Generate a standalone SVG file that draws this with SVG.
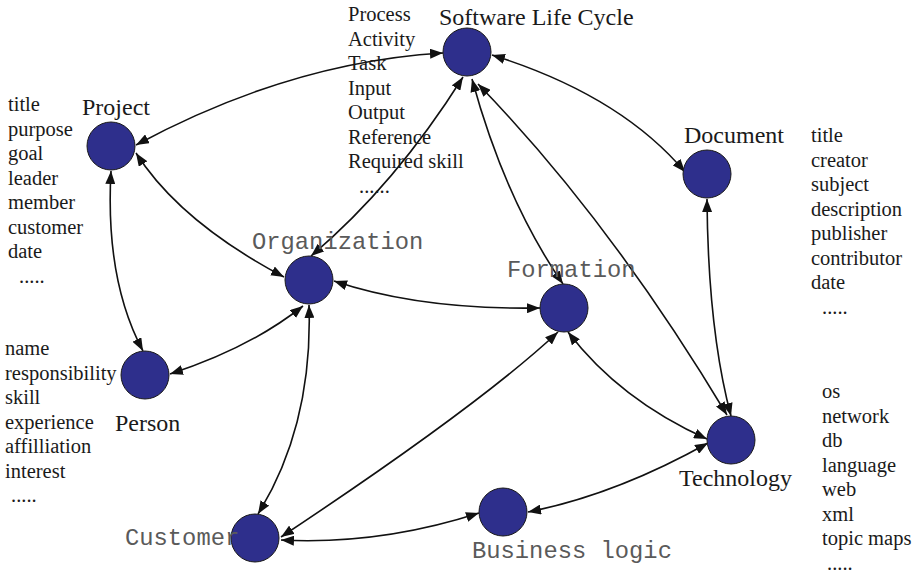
<svg xmlns="http://www.w3.org/2000/svg" width="919" height="576" viewBox="0 0 919 576">
  <style>
    .node { fill: #2e2f8c; stroke: #1a1a1a; stroke-width: 1; }
    .lbl { font-family: "Liberation Serif", "Times New Roman", serif; font-size: 24px; fill: #1a1a1a; }
    .mono { font-family: "Liberation Mono", "Courier New", monospace; font-size: 23.8px; fill: #5a5a5a; }
    .attr { font-family: "Liberation Serif", "Times New Roman", serif; font-size: 20.5px; fill: #1a1a1a; }
    .edge { fill: none; stroke: #111; stroke-width: 1.6; marker-start: url(#arrow); marker-end: url(#arrow); }
  </style>
  <defs>
    <marker id="arrow" markerUnits="userSpaceOnUse" markerWidth="14" markerHeight="10" refX="13" refY="5" orient="auto-start-reverse">
      <path d="M0,0 L13,5 L0,10 z" fill="#111"/>
    </marker>
  </defs>
  <rect width="919" height="576" fill="#fff"/>

  <!-- connectors: every relation is two-way -->
  <g id="connectors">
    <path class="edge" d="M136,145 Q290,62 443,53"/>
    <path class="edge" d="M136,153 Q180,222 284,277"/>
    <path class="edge" d="M111,171 Q105,280 143,351"/>
    <path class="edge" d="M170,374 Q250,348 303,306"/>
    <path class="edge" d="M309,305 Q313,425 258,514"/>
    <path class="edge" d="M311,256 Q395,185 463,77"/>
    <path class="edge" d="M472,79 Q505,200 563,284"/>
    <path class="edge" d="M478,84 Q610,220 727,415"/>
    <path class="edge" d="M492,55 Q620,95 685,172"/>
    <path class="edge" d="M707,199 Q708,330 731,416"/>
    <path class="edge" d="M334,281 Q420,310 540,308"/>
    <path class="edge" d="M558,332 Q480,405 281,537"/>
    <path class="edge" d="M568,332 Q620,400 707,439"/>
    <path class="edge" d="M528,512 Q615,495 708,443"/>
    <path class="edge" d="M281,540 Q380,545 479,513"/>
  </g>

  <g id="software-life-cycle">
    <circle class="node" cx="467" cy="52" r="24"/>
    <text class="lbl" x="439" y="25">Software Life Cycle</text>
    <text class="attr" x="348" y="21">
      <tspan x="348">Process</tspan>
      <tspan x="348" dy="24.5">Activity</tspan>
      <tspan x="348" dy="24.5">Task</tspan>
      <tspan x="348" dy="24.5">Input</tspan>
      <tspan x="348" dy="24.5">Output</tspan>
      <tspan x="348" dy="24.5">Reference</tspan>
      <tspan x="348" dy="24.5">Required skill</tspan>
      <tspan x="359" dy="24.5">......</tspan>
    </text>
  </g>

  <g id="project">
    <circle class="node" cx="111" cy="146" r="24"/>
    <text class="lbl" x="82" y="115">Project</text>
    <text class="attr" x="8" y="111">
      <tspan x="8">title</tspan>
      <tspan x="8" dy="24.5">purpose</tspan>
      <tspan x="8" dy="24.5">goal</tspan>
      <tspan x="8" dy="24.5">leader</tspan>
      <tspan x="8" dy="24.5">member</tspan>
      <tspan x="8" dy="24.5">customer</tspan>
      <tspan x="8" dy="24.5">date</tspan>
      <tspan x="19" dy="24.5">.....</tspan>
    </text>
  </g>

  <g id="person">
    <circle class="node" cx="145" cy="375" r="24"/>
    <text class="lbl" x="115" y="431">Person</text>
    <text class="attr" x="5" y="355">
      <tspan x="5">name</tspan>
      <tspan x="5" dy="24.5">responsibility</tspan>
      <tspan x="5" dy="24.5">skill</tspan>
      <tspan x="5" dy="24.5">experience</tspan>
      <tspan x="5" dy="24.5">affilliation</tspan>
      <tspan x="5" dy="24.5">interest</tspan>
      <tspan x="11" dy="24.5">.....</tspan>
    </text>
  </g>

  <g id="organization">
    <circle class="node" cx="309" cy="280" r="24"/>
    <text class="mono" x="252" y="249">Organization</text>
  </g>

  <g id="formation">
    <circle class="node" cx="564" cy="308" r="24"/>
    <text class="mono" x="507" y="277">Formation</text>
  </g>

  <g id="document">
    <circle class="node" cx="707" cy="174" r="24"/>
    <text class="lbl" x="684" y="143">Document</text>
    <text class="attr" x="811" y="142">
      <tspan x="811">title</tspan>
      <tspan x="811" dy="24.5">creator</tspan>
      <tspan x="811" dy="24.5">subject</tspan>
      <tspan x="811" dy="24.5">description</tspan>
      <tspan x="811" dy="24.5">publisher</tspan>
      <tspan x="811" dy="24.5">contributor</tspan>
      <tspan x="811" dy="24.5">date</tspan>
      <tspan x="822" dy="24.5">.....</tspan>
    </text>
  </g>

  <g id="technology">
    <circle class="node" cx="731" cy="440" r="24"/>
    <text class="lbl" x="679" y="486">Technology</text>
    <text class="attr" x="822" y="398">
      <tspan x="822">os</tspan>
      <tspan x="822" dy="24.5">network</tspan>
      <tspan x="822" dy="24.5">db</tspan>
      <tspan x="822" dy="24.5">language</tspan>
      <tspan x="822" dy="24.5">web</tspan>
      <tspan x="822" dy="24.5">xml</tspan>
      <tspan x="822" dy="24.5">topic maps</tspan>
      <tspan x="827" dy="24.5">.....</tspan>
    </text>
  </g>

  <g id="business-logic">
    <circle class="node" cx="503" cy="512" r="24"/>
    <text class="mono" x="472" y="558">Business logic</text>
  </g>

  <g id="customer">
    <circle class="node" cx="255" cy="538" r="24"/>
    <text class="mono" x="125" y="545">Customer</text>
  </g>
</svg>
